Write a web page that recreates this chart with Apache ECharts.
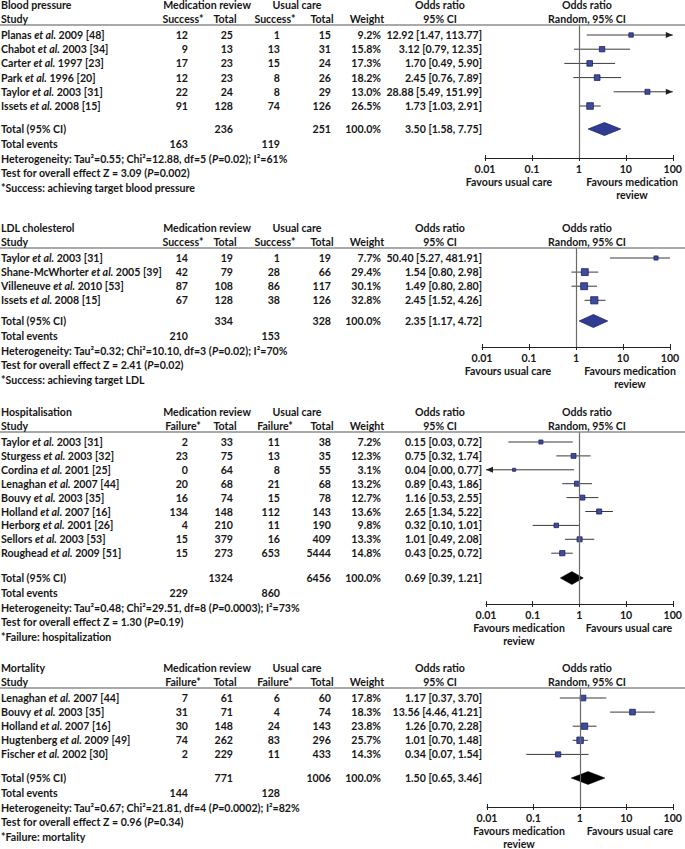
<!DOCTYPE html>
<html><head><meta charset="utf-8">
<script src="https://cdn.jsdelivr.net/npm/echarts@6/dist/echarts.min.js"></script>
<style>html,body{margin:0;padding:0;background:#fff}#c{width:685px;height:849px}</style>
</head><body><div id="c"></div>
<script>
// ---------------- DATA ----------------
const tickLabels = ['0.01', '0.1', '1', '10', '100'];

// Blood pressure
const bpAuthors = ['Planas', 'Chabot', 'Carter', 'Park', 'Taylor', 'Issets'];
const bpYearRef = ['2009 [48]', '2003 [34]', '1997 [23]', '1996 [20]', '2003 [31]', '2008 [15]'];
const bpMedEvents = [12, 9, 17, 12, 22, 91];
const bpMedTotal = [25, 13, 23, 23, 24, 128];
const bpUcEvents = [1, 13, 15, 8, 8, 74];
const bpUcTotal = [15, 31, 24, 26, 29, 126];
const bpWeight = [9.2, 15.8, 17.3, 18.2, 13.0, 26.5];
const bpOR = [12.92, 3.12, 1.70, 2.45, 28.88, 1.73];
const bpLo = [1.47, 0.79, 0.49, 0.76, 5.49, 1.03];
const bpHi = [113.77, 12.35, 5.90, 7.89, 151.99, 2.91];
const bpTotals = [236, 251];
const bpEvents = [163, 119];
const bpPooled = [3.50, 1.58, 7.75];
const bpHet = ['0.55', '12.88', '5', '0.02', '61'];
const bpTest = ['3.09', '0.002'];

// LDL cholesterol
const ldlAuthors = ['Taylor', 'Shane-McWhorter', 'Villeneuve', 'Issets'];
const ldlYearRef = ['2003 [31]', '2005 [39]', '2010 [53]', '2008 [15]'];
const ldlMedEvents = [14, 42, 87, 67];
const ldlMedTotal = [19, 79, 108, 128];
const ldlUcEvents = [1, 28, 86, 38];
const ldlUcTotal = [19, 66, 117, 126];
const ldlWeight = [7.7, 29.4, 30.1, 32.8];
const ldlOR = [50.40, 1.54, 1.49, 2.45];
const ldlLo = [5.27, 0.80, 0.80, 1.52];
const ldlHi = [481.91, 2.98, 2.80, 4.26];
const ldlTotals = [334, 328];
const ldlEvents = [210, 153];
const ldlPooled = [2.35, 1.17, 4.72];
const ldlHet = ['0.32', '10.10', '3', '0.02', '70'];
const ldlTest = ['2.41', '0.02'];

// Hospitalisation
const hosAuthors = ['Taylor', 'Sturgess', 'Cordina', 'Lenaghan', 'Bouvy', 'Holland', 'Herborg', 'Sellors', 'Roughead'];
const hosYearRef = ['2003 [31]', '2003 [32]', '2001 [25]', '2007 [44]', '2003 [35]', '2007 [16]', '2001 [26]', '2003 [53]', '2009 [51]'];
const hosMedEvents = [2, 23, 0, 20, 16, 134, 4, 15, 15];
const hosMedTotal = [33, 75, 64, 68, 74, 148, 210, 379, 273];
const hosUcEvents = [11, 13, 8, 21, 15, 112, 11, 16, 653];
const hosUcTotal = [38, 35, 55, 68, 78, 143, 190, 409, 5444];
const hosWeight = [7.2, 12.3, 3.1, 13.2, 12.7, 13.6, 9.8, 13.3, 14.8];
const hosOR = [0.15, 0.75, 0.04, 0.89, 1.16, 2.65, 0.32, 1.01, 0.43];
const hosLo = [0.03, 0.32, 0.00, 0.43, 0.53, 1.34, 0.10, 0.49, 0.25];
const hosHi = [0.72, 1.74, 0.77, 1.86, 2.55, 5.22, 1.01, 2.08, 0.72];
const hosTotals = [1324, 6456];
const hosEvents = [229, 860];
const hosPooled = [0.69, 0.39, 1.21];
const hosHet = ['0.48', '29.51', '8', '0.0003', '73'];
const hosTest = ['1.30', '0.19'];

// Mortality
const morAuthors = ['Lenaghan', 'Bouvy', 'Holland', 'Hugtenberg', 'Fischer'];
const morYearRef = ['2007 [44]', '2003 [35]', '2007 [16]', '2009 [49]', '2002 [30]'];
const morMedEvents = [7, 31, 30, 74, 2];
const morMedTotal = [61, 71, 148, 262, 229];
const morUcEvents = [6, 4, 24, 83, 11];
const morUcTotal = [60, 74, 143, 296, 433];
const morWeight = [17.8, 18.3, 23.8, 25.7, 14.3];
const morOR = [1.17, 13.56, 1.26, 1.01, 0.34];
const morLo = [0.37, 4.46, 0.70, 0.70, 0.07];
const morHi = [3.70, 41.21, 2.28, 1.48, 1.54];
const morTotals = [771, 1006];
const morEvents = [144, 128];
const morPooled = [1.50, 0.65, 3.46];
const morHet = ['0.67', '21.81', '4', '0.0002', '82'];
const morTest = ['0.96', '0.34'];

// ---------------- PANELS ----------------
const panels = [
  { title: 'Blood pressure', outcome: 'Success*', authors: bpAuthors, yearRef: bpYearRef,
    medEv: bpMedEvents, medTot: bpMedTotal, ucEv: bpUcEvents, ucTot: bpUcTotal,
    weight: bpWeight, or: bpOR, lo: bpLo, hi: bpHi, totals: bpTotals, events: bpEvents,
    pooled: bpPooled, het: bpHet, test: bpTest,
    foot: '*Success: achieving target blood pressure',
    favLeft: 'Favours usual care', favRight: 'Favours medication\nreview', dark: false, arrows: true },
  { title: 'LDL cholesterol', outcome: 'Success*', authors: ldlAuthors, yearRef: ldlYearRef,
    medEv: ldlMedEvents, medTot: ldlMedTotal, ucEv: ldlUcEvents, ucTot: ldlUcTotal,
    weight: ldlWeight, or: ldlOR, lo: ldlLo, hi: ldlHi, totals: ldlTotals, events: ldlEvents,
    pooled: ldlPooled, het: ldlHet, test: ldlTest,
    foot: '*Success: achieving target LDL',
    favLeft: 'Favours usual care', favRight: 'Favours medication\nreview', dark: false, arrows: false },
  { title: 'Hospitalisation', outcome: 'Failure*', authors: hosAuthors, yearRef: hosYearRef,
    medEv: hosMedEvents, medTot: hosMedTotal, ucEv: hosUcEvents, ucTot: hosUcTotal,
    weight: hosWeight, or: hosOR, lo: hosLo, hi: hosHi, totals: hosTotals, events: hosEvents,
    pooled: hosPooled, het: hosHet, test: hosTest,
    foot: '*Failure: hospitalization',
    favLeft: 'Favours medication\nreview', favRight: 'Favours usual care', dark: true, arrows: true },
  { title: 'Mortality', outcome: 'Failure*', authors: morAuthors, yearRef: morYearRef,
    medEv: morMedEvents, medTot: morMedTotal, ucEv: morUcEvents, ucTot: morUcTotal,
    weight: morWeight, or: morOR, lo: morLo, hi: morHi, totals: morTotals, events: morEvents,
    pooled: morPooled, het: morHet, test: morTest,
    foot: '*Failure: mortality',
    favLeft: 'Favours medication\nreview', favRight: 'Favours usual care', dark: true, arrows: true }
];

// ---------------- LAYOUT ----------------
const layouts = [
  { firstY: 35,  rowH: 14.2, totalY: 129, axisY: 158, left: 485, right: 674, favL: 509, favR: 632 },
  { firstY: 258, rowH: 14.1, totalY: 321, axisY: 347, left: 482, right: 670, favL: 508, favR: 630 },
  { firstY: 442, rowH: 13.9, totalY: 578, axisY: 604, left: 486, right: 677, favL: 519, favR: 629 },
  { firstY: 698, rowH: 14.1, totalY: 778, axisY: 807, left: 487, right: 678, favL: 519, favR: 630 }
];
const COL = { study: 1, medEv: 188, medTot: 233, ucEv: 280, ucTot: 331, weight: 381, ci: 482,
  medHead: 207, ucHead: 297, medEvHead: 183, medTotHead: 225, ucEvHead: 275, ucTotHead: 322,
  weightHead: 367, ciHead: 440, plotHead: 587 };
const FONT = 'Lato, "Open Sans", "DejaVu Sans", sans-serif';
const FS = 10.6;
const INK = '#161616';
const XMIN = 0.01, XMAX = 100;

const RICH = { i: { fontStyle: 'italic', fontWeight: 'bold', fontFamily: FONT, fontSize: FS, fill: INK } };
function T(x, y, s, align) {
  return { type: 'text', x: x, y: y, silent: true,
    style: { text: s, fill: INK, fontFamily: FONT, fontWeight: 'bold', fontSize: FS,
      align: align || 'left', verticalAlign: 'middle', lineHeight: 13, rich: RICH } };
}
const f2 = v => v.toFixed(2);
const ciText = (o, l, h) => f2(o) + ' [' + f2(l) + ', ' + f2(h) + ']';

function tableRender(P, L) {
  return function (params, api) {
    const yOf = r => api.coord([1, r])[1];
    const lineY = yOf(L.yMin);
    const axisY = yOf(L.yMax);
    const y0 = yOf(0);
    const totY = yOf(L.totalRow);
    const t1 = y0 - 30, t2 = y0 - 16.5;
    const ch = [];
    ch.push({ type: 'line', silent: true, shape: { x1: 0, y1: lineY, x2: 685, y2: lineY },
      style: { stroke: '#8c8c8c', lineWidth: 1.4 } });
    ch.push(T(COL.study, t1, P.title));
    ch.push(T(COL.medHead, t1, 'Medication review', 'center'));
    ch.push(T(COL.ucHead, t1, 'Usual care', 'center'));
    ch.push(T(COL.ciHead, t1, 'Odds ratio', 'center'));
    ch.push(T(COL.plotHead, t1, 'Odds ratio', 'center'));
    ch.push(T(COL.study, t2, 'Study'));
    ch.push(T(COL.medEvHead, t2, P.outcome, 'center'));
    ch.push(T(COL.medTotHead, t2, 'Total', 'center'));
    ch.push(T(COL.ucEvHead, t2, P.outcome, 'center'));
    ch.push(T(COL.ucTotHead, t2, 'Total', 'center'));
    ch.push(T(COL.weightHead, t2, 'Weight', 'center'));
    ch.push(T(COL.ciHead, t2, '95% CI', 'center'));
    ch.push(T(COL.plotHead, t2, 'Random, 95% CI', 'center'));
    P.authors.forEach((a, i) => {
      const y = yOf(i);
      ch.push(T(COL.study, y, a + ' {i|et al.} ' + P.yearRef[i]));
      ch.push(T(COL.medEv, y, String(P.medEv[i]), 'right'));
      ch.push(T(COL.medTot, y, String(P.medTot[i]), 'right'));
      ch.push(T(COL.ucEv, y, String(P.ucEv[i]), 'right'));
      ch.push(T(COL.ucTot, y, String(P.ucTot[i]), 'right'));
      ch.push(T(COL.weight, y, P.weight[i].toFixed(1) + '%', 'right'));
      ch.push(T(COL.ci, y, ciText(P.or[i], P.lo[i], P.hi[i]), 'right'));
    });
    ch.push(T(COL.study, totY, 'Total (95% CI)'));
    ch.push(T(COL.medTot, totY, String(P.totals[0]), 'right'));
    ch.push(T(COL.ucTot, totY, String(P.totals[1]), 'right'));
    ch.push(T(COL.weight, totY, '100.0%', 'right'));
    ch.push(T(COL.ci, totY, ciText(P.pooled[0], P.pooled[1], P.pooled[2]), 'right'));
    const evY = totY + 15, hetY = totY + 30, testY = totY + 44, footY = totY + 59;
    ch.push(T(COL.study, evY, 'Total events'));
    ch.push(T(COL.medEv, evY, String(P.events[0]), 'right'));
    ch.push(T(COL.ucEv, evY, String(P.events[1]), 'right'));
    const h = P.het;
    ch.push(T(COL.study, hetY, 'Heterogeneity: Tau\u00b2=' + h[0] + '; Chi\u00b2=' + h[1] + ', df=' + h[2] +
      ' ({i|P}=' + h[3] + '); I\u00b2=' + h[4] + '%'));
    ch.push(T(COL.study, testY, 'Test for overall effect Z = ' + P.test[0] + ' ({i|P}=' + P.test[1] + ')'));
    ch.push(T(COL.study, footY, P.foot));
    const fl = T(L.favL, axisY + 24, P.favLeft, 'center');
    const fr = T(L.favR, axisY + 24, P.favRight, 'center');
    [fl, fr].forEach(c => { if (c.style.text.indexOf('\n') >= 0) { c.style.verticalAlign = 'top'; c.y = axisY + 24 - 6.5; } });
    ch.push(fl, fr);
    return { type: 'group', children: ch };
  };
}

function ciRender(arrows) {
  return function (params, api) {
    const lo = api.value(0), hi = api.value(1), row = api.value(2);
    const a = Math.max(lo, XMIN), b = Math.min(hi, XMAX);
    const p1 = api.coord([a, row]), p2 = api.coord([b, row]);
    const ch = [{ type: 'line', shape: { x1: p1[0], y1: p1[1], x2: p2[0], y2: p2[1] },
      style: { stroke: '#3a3a3a', lineWidth: 1 } }];
    if (lo < XMIN) ch.push({ type: 'polygon', shape: { points: [[p1[0], p1[1]], [p1[0] + 7, p1[1] - 3], [p1[0] + 7, p1[1] + 3]] }, style: { fill: '#222' } });
    if (hi > XMAX && arrows) ch.push({ type: 'polygon', shape: { points: [[p2[0], p2[1]], [p2[0] - 7, p2[1] - 3], [p2[0] - 7, p2[1] + 3]] }, style: { fill: '#222' } });
    return { type: 'group', children: ch };
  };
}

function diamondRender(dark) {
  return function (params, api) {
    const lo = api.value(0), or = api.value(1), hi = api.value(2), row = api.value(3);
    const pl = api.coord([lo, row]), pc = api.coord([or, row]), ph = api.coord([hi, row]);
    const hh = 6.5;
    return { type: 'polygon', shape: { points: [[pl[0], pl[1]], [pc[0], pc[1] - hh], [ph[0], ph[1]], [pc[0], pc[1] + hh]] },
      style: dark ? { fill: '#000', stroke: '#000', lineWidth: 0.5 } : { fill: '#2f3c92', stroke: '#1e2870', lineWidth: 0.8 } };
  };
}

const axisLabelFmt = v => tickLabels[Math.round(Math.log10(v)) + 2];

const option = { animation: false, grid: [], xAxis: [], yAxis: [], series: [] };

panels.forEach((P, p) => {
  const L = layouts[p];
  const lineY = L.firstY - 10;
  L.yMin = (lineY - L.firstY) / L.rowH;
  L.yMax = (L.axisY - L.firstY) / L.rowH;
  L.totalRow = (L.totalY - L.firstY) / L.rowH;
  const gh = L.axisY - lineY;
  option.grid.push({ left: L.left, top: lineY, width: L.right - L.left, height: gh });
  option.xAxis.push({ type: 'log', logBase: 10, gridIndex: p, min: XMIN, max: XMAX, position: 'bottom',
    axisLine: { onZero: false, lineStyle: { color: '#222', width: 1 } },
    axisTick: { show: true, length: 3, lineStyle: { color: '#222', width: 1 } },
    minorTick: { show: false }, splitLine: { show: false },
    axisLabel: { margin: 5, formatter: axisLabelFmt, fontFamily: FONT, fontWeight: 'bold', fontSize: FS, color: INK } });
  option.xAxis.push({ type: 'log', logBase: 10, gridIndex: p, min: XMIN, max: XMAX, position: 'top', offset: -gh,
    axisLine: { show: false, onZero: false }, axisTick: { show: true, length: 3, lineStyle: { color: '#222', width: 1 } },
    minorTick: { show: false }, splitLine: { show: false }, axisLabel: { show: false } });
  option.yAxis.push({ type: 'value', gridIndex: p, inverse: true, min: L.yMin, max: L.yMax, show: false });

  option.series.push({ type: 'custom', xAxisIndex: 2 * p, yAxisIndex: p, z: 2, clip: false,
    renderItem: ciRender(P.arrows), encode: { x: [0, 1], y: 2 },
    data: P.lo.map((lo, i) => [lo, P.hi[i], i]),
    markLine: { silent: true, symbol: ['none', 'none'], label: { show: false },
      lineStyle: { color: '#6a6a6a', width: 1.2, type: 'solid' }, data: [{ xAxis: 1 }] } });
  option.series.push({ type: 'scatter', xAxisIndex: 2 * p, yAxisIndex: p, z: 4, symbol: 'rect',
    symbolSize: (val, prm) => 1.2 + 1.05 * Math.sqrt(P.weight[prm.dataIndex]),
    itemStyle: { color: '#3f4b9c', borderColor: '#1b2360', borderWidth: 0.8, opacity: 1 },
    data: P.or.map((v, i) => [v, i]) });
  option.series.push({ type: 'custom', xAxisIndex: 2 * p, yAxisIndex: p, z: 4, clip: false,
    renderItem: diamondRender(P.dark), encode: { x: [0, 1, 2], y: 3 },
    data: [[P.pooled[1], P.pooled[0], P.pooled[2], L.totalRow]] });
  option.series.push({ type: 'custom', xAxisIndex: 2 * p, yAxisIndex: p, z: 5, clip: false,
    renderItem: tableRender(P, L), encode: { x: 0, y: 1 }, data: [[1, 0]] });
});

const chart = echarts.init(document.getElementById('c'), null, { renderer: 'svg', width: 685, height: 849 });
chart.setOption(option);
</script>
</body></html>
